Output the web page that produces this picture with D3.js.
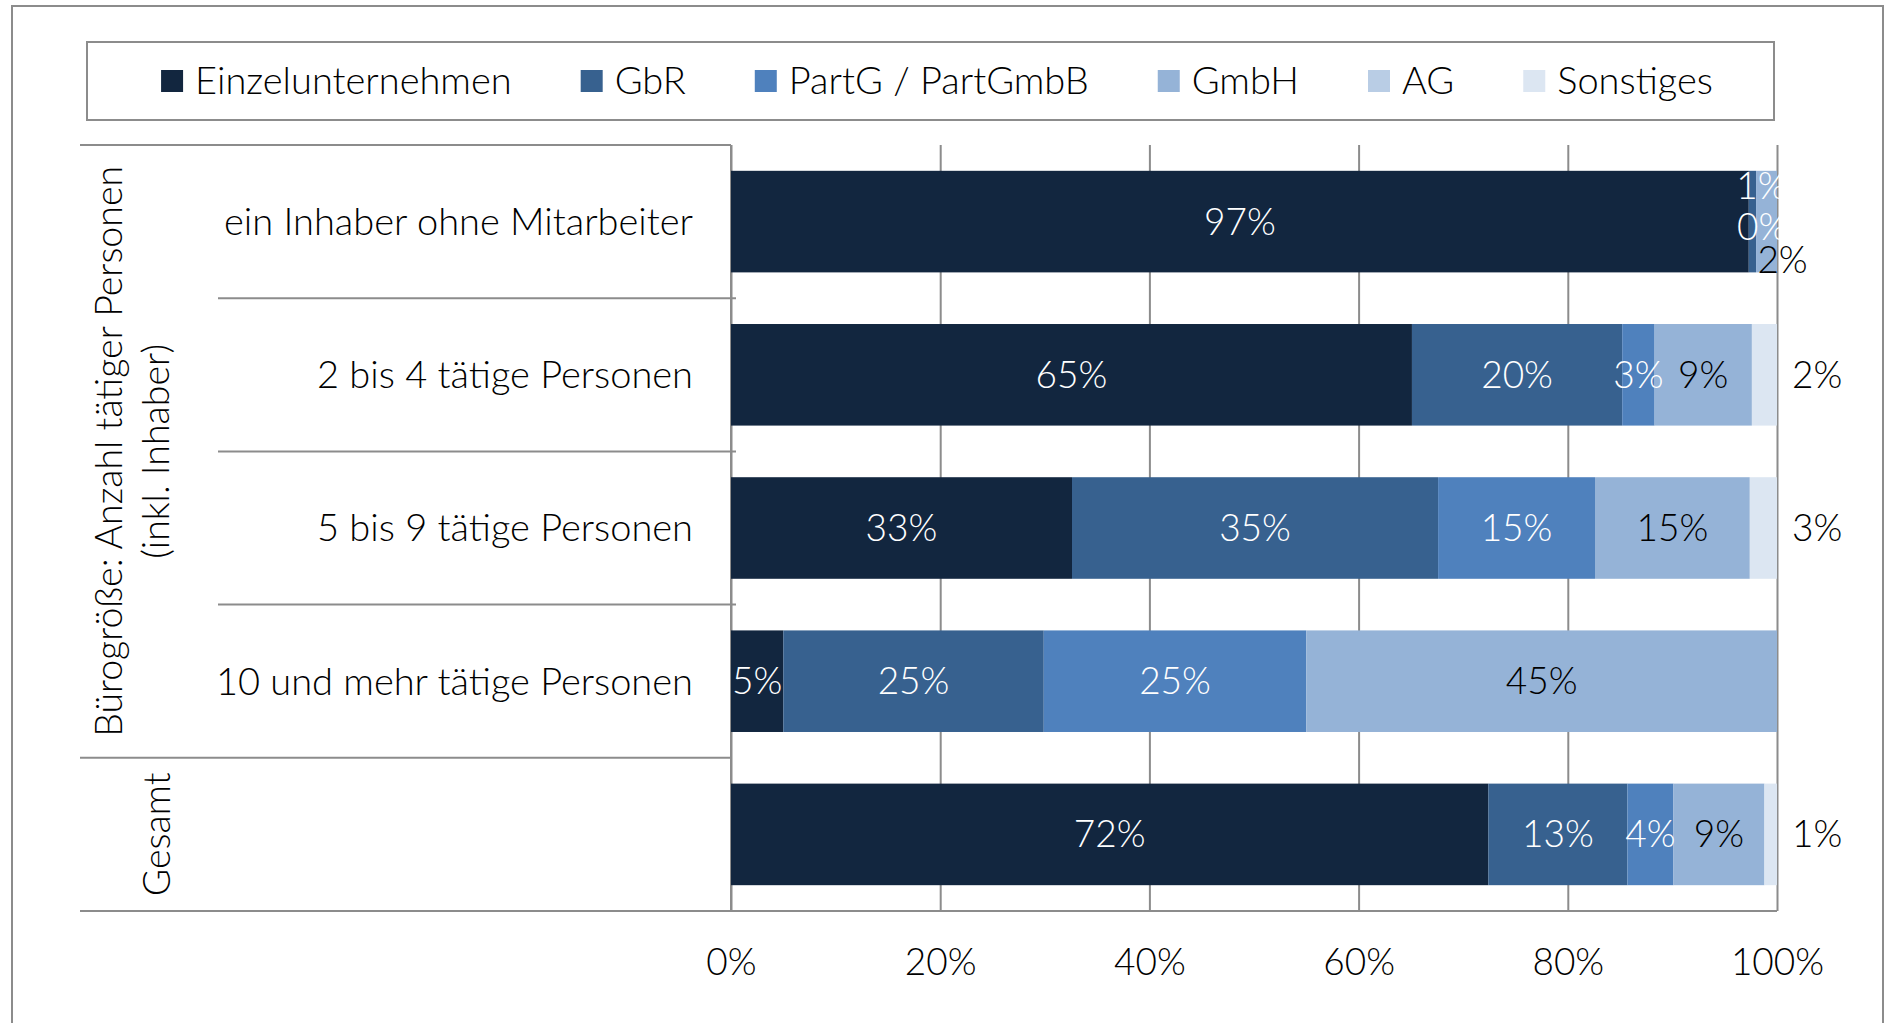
<!DOCTYPE html>
<html>
<head>
<meta charset="utf-8">
<script src="https://cdn.jsdelivr.net/npm/d3@7"></script>
<style>
  body { margin: 0; background: #fff; }
  svg { display: block; }
  text { font-family: Lato, "Liberation Sans", sans-serif; font-weight: 300; fill: #000; }
</style>
</head>
<body>
<svg width="1890" height="1023"></svg>
<script>
// rows of the chart (last one is the total)
let rows = ["ein Inhaber ohne Mitarbeiter", "2 bis 4 tätige Personen", "5 bis 9 tätige Personen",
    "10 und mehr tätige Personen", "Gesamt"]
let rowLabels = ["ein Inhaber ohne Mitarbeiter", "2 bis 4 tätige Personen", "5 bis 9 tätige Personen",
    "10 und mehr tätige Personen", ""]

let seriesNames = ["Einzelunternehmen", "GbR", "PartG / PartGmbB", "GmbH", "AG", "Sonstiges"]
let colors = ["#12263f", "#37618f", "#4f81bd", "#95b3d7", "#b9cde5", "#dce6f2"]

// shares in percent, one array per legal form
let einzel = [97.3, 65.1, 32.6, 5.0, 72.4]
let gbr = [0.7, 20.1, 35.0, 24.9, 13.3]
let partg = [0, 3.1, 15.0, 25.1, 4.4]
let gmbh = [2.0, 9.3, 14.8, 45.0, 8.7]
let ag = [0, 0, 0, 0, 0]
let sonst = [0, 2.4, 2.6, 0, 1.2]

let xTicks = [0, 20, 40, 60, 80, 100]

let groups = [
    { lines: ["Bürogröße: Anzahl tätiger Personen", "(inkl. Inhaber)"], first: 0, last: 3 },
    { lines: ["Gesamt"], first: 4, last: 4 }
]

let values = [einzel, gbr, partg, gmbh, ag, sonst]
// label placement: in = inside the segment, out = right of the bar, none
let labelMode = ["in", "in", "in", "in", "none", "out"]
let labelColor = ["#fff", "#fff", "#fff", "#000", "#000", "#000"]
// crowded first row: Excel pushes the little labels apart
let nudge = { "0-1": [9, -36], "0-2": [6, 5], "0-3": [16, 38] }

var svg = d3.select("svg")

var plotLeft = 731, plotRight = 1777, plotTop = 145, plotBottom = 911

var x = d3.scaleLinear().domain([0, 100]).range([plotLeft, plotRight])
var y = d3.scaleBand().domain(rows).range([plotTop, plotBottom]).paddingInner(0.337).paddingOuter(0.1685)

// outer frame
svg.append("path")
    .attr("d", "M12,1030 V6 H1883 V1030")
    .attr("fill", "none")
    .attr("stroke", "#8c8c8c")
    .attr("stroke-width", 2)

// legend
var legend = svg.append("g")
legend.append("rect")
    .attr("x", 87).attr("y", 42)
    .attr("width", 1687).attr("height", 78)
    .attr("fill", "#fff")
    .attr("stroke", "#8c8c8c")
    .attr("stroke-width", 2)

var items = legend.selectAll(".item")
    .data(seriesNames)
    .enter().append("g")
    .attr("class", "item")
items.append("rect")
    .attr("width", 22).attr("height", 22)
    .attr("y", 70)
    .attr("fill", function (d, i) { return colors[i]; })
items.append("text")
    .attr("x", 34)
    .attr("y", 81)
    .attr("dy", "0.35em")
    .attr("font-size", "38px")
    .text(function (d) { return d; })

var widths = []
items.each(function () { widths.push(34 + d3.select(this).select("text").node().getComputedTextLength()); })
var gap = 69
var total = d3.sum(widths) + gap * (widths.length - 1)
var cx = 937 - total / 2
items.attr("transform", function (d, i) {
    var t = "translate(" + cx + ",0)";
    cx += widths[i] + gap;
    return t;
})

// grid lines
svg.append("g")
    .attr("transform", "translate(0," + plotBottom + ")")
    .call(d3.axisBottom(x).tickValues(xTicks).tickSize(-(plotBottom - plotTop)).tickFormat(""))
    .call(function (g) { g.select(".domain").remove(); })
    .selectAll("line")
    .attr("stroke", "#8c8c8c")
    .attr("stroke-width", 2)

// tick labels
svg.append("g")
    .attr("transform", "translate(0," + plotBottom + ")")
    .call(d3.axisBottom(x).tickValues(xTicks).tickSize(0).tickFormat(function (d) { return d + "%"; }))
    .call(function (g) { g.select(".domain").remove(); })
    .selectAll("text")
    .attr("y", 51)
    .attr("dy", "0.35em")
    .attr("font-family", "Lato, sans-serif")
    .attr("font-size", "37px")
    .attr("fill", "#000")

// category table lines
var step = y.step()
var lines = d3.range(rows.length + 1).map(function (i) {
    var yy = plotTop + i * step;
    var inner = groups.every(function (g) { return i !== g.first && i !== g.last + 1; });
    return { y: yy, x1: inner ? 218 : 80, x2: i === rows.length ? plotRight : (inner ? plotLeft + 5 : plotLeft) };
})
svg.selectAll(".sep")
    .data(lines)
    .enter().append("line")
    .attr("class", "sep")
    .attr("x1", function (d) { return d.x1; })
    .attr("x2", function (d) { return d.x2; })
    .attr("y1", function (d) { return d.y; })
    .attr("y2", function (d) { return d.y; })
    .attr("stroke", "#8c8c8c")
    .attr("stroke-width", 2)

svg.append("line")
    .attr("x1", plotLeft).attr("x2", plotLeft)
    .attr("y1", plotTop).attr("y2", plotBottom)
    .attr("stroke", "#8c8c8c")
    .attr("stroke-width", 2)

// row labels
svg.selectAll(".rowlabel")
    .data(rowLabels)
    .enter().append("text")
    .attr("class", "rowlabel")
    .attr("x", 693)
    .attr("y", function (d, i) { return y(rows[i]) + y.bandwidth() / 2; })
    .attr("dy", "0.35em")
    .attr("text-anchor", "end")
    .attr("font-size", "38px")
    .text(function (d) { return d; })

// rotated group labels
groups.forEach(function (g) {
    var mid = (plotTop + g.first * step + plotTop + (g.last + 1) * step) / 2;
    var baselines = g.lines.length === 2 ? [122, 169] : [170];
    g.lines.forEach(function (t, j) {
        svg.append("text")
            .attr("transform", "translate(" + baselines[j] + "," + mid + ") rotate(-90)")
            .attr("text-anchor", "middle")
            .attr("font-family", "'Open Sans', sans-serif")
            .attr("font-weight", 400)
            .attr("font-size", "37.5px")
            .text(t);
    });
})

// stacked bars
var stackData = rows.map(function (r, i) {
    var o = { row: r };
    seriesNames.forEach(function (s, k) { o[s] = values[k][i]; });
    return o;
})
var stacked = d3.stack().keys(seriesNames)(stackData)

var layers = svg.selectAll(".layer")
    .data(stacked)
    .enter().append("g")
    .attr("class", "layer")
    .attr("fill", function (d, k) { return colors[k]; })

layers.selectAll("rect")
    .data(function (d) { return d; })
    .enter().append("rect")
    .attr("x", function (d) { return x(d[0]); })
    .attr("y", function (d) { return y(d.data.row); })
    .attr("width", function (d) { return x(d[1]) - x(d[0]); })
    .attr("height", y.bandwidth())

// data labels
stacked.forEach(function (layer, k) {
    if (labelMode[k] === "none") return;
    layer.forEach(function (d, i) {
        var v = values[k][i];
        if (labelMode[k] === "out" && v <= 0) return;
        var n = nudge[i + "-" + k] || [0, 0];
        var lx = labelMode[k] === "out" ? x(100) + 15 : (x(d[0]) + x(d[1])) / 2;
        svg.append("text")
            .attr("x", lx + n[0])
            .attr("y", y(d.data.row) + y.bandwidth() / 2 + n[1])
            .attr("dy", "0.35em")
            .attr("text-anchor", labelMode[k] === "out" ? "start" : "middle")
            .attr("font-size", "37px")
            .style("fill", labelColor[k])
            .text(Math.round(v) + "%");
    });
})
</script>
</body>
</html>
